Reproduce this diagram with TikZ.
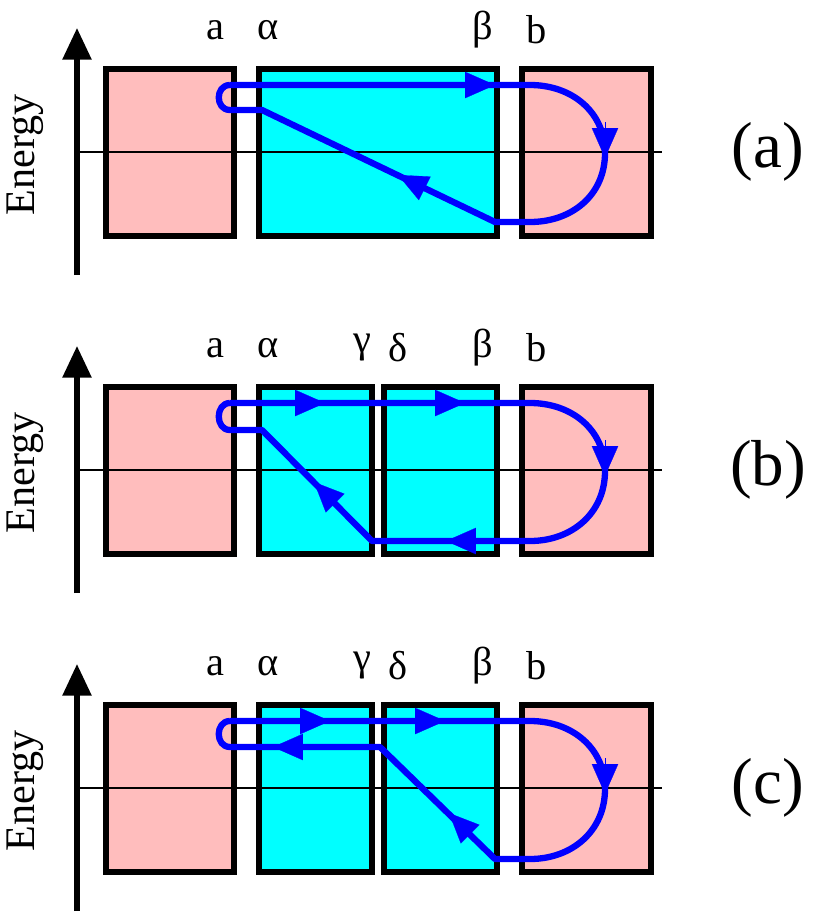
\documentclass[tikz,border=0pt]{standalone}
\usepackage{fontspec}
\setmainfont{Liberation Serif}
\usetikzlibrary{arrows.meta}
\definecolor{cy}{RGB}{0,255,255}
\definecolor{pk}{RGB}{255,189,189}
\begin{document}
\begin{tikzpicture}[x=0.02cm,y=-0.02cm,
  pinkbox/.style={fill=pk,draw=black,line width=3pt},
  cyanbox/.style={fill=cy,draw=black,line width=3pt},
  path/.style={draw=blue,line width=3.6pt,line join=round},
  arr/.style={draw=blue,line width=0.1pt,-{Triangle[length=17pt,width=15pt]},fill=blue},
  lbl/.style={font=\fontsize{23}{25}\selectfont,anchor=center},
  elbl/.style={font=\fontsize{24}{26}\selectfont,anchor=center,rotate=90},
  plbl/.style={font=\fontsize{37}{40}\selectfont,anchor=center},
  axis/.style={line width=3pt,-{Triangle[length=18pt,width=16pt]}}]
\useasboundingbox (0,0) rectangle (830,923);
% ---------------- (a)
\begin{scope}
\draw[pinkbox] (106,69) rectangle (234,236);
\draw[cyanbox] (259,69) rectangle (497,236);
\draw[pinkbox] (522,69) rectangle (651,236);
\draw[line width=1.1pt] (80,152) -- (662,152);
\coordinate (ab) at (77,275); \coordinate (at) at (77,28);
\draw[axis] (ab) -- (at);
\node[elbl] (ea) at (25,155) {Energy};
\node[lbl] (la) at (215,30) {a};
\node[lbl] (lal) at (268,30) {α};
\node[lbl] (lbe) at (483,30) {β};
\node[lbl] (lb) at (537,30) {b};
\node[plbl] (pa) at (768,152) {(a)};
\draw[path] (230,85) -- (530,85) .. controls (572,85) and (605,112) .. (605,153) .. controls (605,195) and (572,222) .. (530,222) -- (495,222) -- (262,110) -- (230,110) .. controls (215,110) and (215,85) .. (230,85);
\draw[arr] (465,85) -- (495,85);
\draw[arr] (605,122) -- (605,158);
\draw[arr] (428,190) -- (398,175);
\end{scope}
% ---------------- (b)
\begin{scope}[yshift=-318*0.02cm]
\draw[pinkbox] (106,69) rectangle (234,236);
\draw[cyanbox] (259,69) rectangle (372,236);
\draw[cyanbox] (384,69) rectangle (497,236);
\draw[pinkbox] (522,69) rectangle (651,236);
\draw[line width=1.1pt] (80,152) -- (662,152);
\draw[axis] (77,275) -- (77,28);
\node[elbl] (eb) at (25,155) {Energy};
\node[lbl] (lb1) at (215,30) {a};
\node[lbl] (lb2) at (268,30) {α};
\node[lbl] (lb3) at (362,30) {γ};
\node[lbl] (lb4) at (398,30) {δ};
\node[lbl] (lb5) at (483,30) {β};
\node[lbl] (lb6) at (537,30) {b};
\node[plbl] (pb) at (768,152) {(b)};
\draw[path] (230,85) -- (530,85) .. controls (572,85) and (605,112) .. (605,153) .. controls (605,195) and (572,223) .. (530,223) -- (372,223) -- (262,112) -- (230,112) .. controls (215,112) and (215,85) .. (230,85);
\draw[arr] (295,85) -- (325,85);
\draw[arr] (435,85) -- (465,85);
\draw[arr] (605,122) -- (605,158);
\draw[arr] (478,223) -- (446,223);
\draw[arr] (337,187) -- (314,164);
\end{scope}
% ---------------- (c)
\begin{scope}[yshift=-636*0.02cm]
\draw[pinkbox] (106,69) rectangle (234,236);
\draw[cyanbox] (259,69) rectangle (372,236);
\draw[cyanbox] (384,69) rectangle (497,236);
\draw[pinkbox] (522,69) rectangle (651,236);
\draw[line width=1.1pt] (80,152) -- (662,152);
\draw[axis] (77,275) -- (77,28);
\node[elbl] (ec) at (25,155) {Energy};
\node[lbl] (lc1) at (215,30) {a};
\node[lbl] (lc2) at (268,30) {α};
\node[lbl] (lc3) at (362,30) {γ};
\node[lbl] (lc4) at (398,30) {δ};
\node[lbl] (lc5) at (483,30) {β};
\node[lbl] (lc6) at (537,30) {b};
\node[plbl] (pc) at (768,152) {(c)};
\draw[path] (230,85) -- (530,85) .. controls (572,85) and (605,112) .. (605,153) .. controls (605,195) and (572,223) .. (530,223) -- (495,223) -- (380,111) -- (230,111) .. controls (215,111) and (215,85) .. (230,85);
\draw[arr] (300,85) -- (330,85);
\draw[arr] (415,85) -- (445,85);
\draw[arr] (303,111) -- (273,111);
\draw[arr] (605,122) -- (605,158);
\draw[arr] (472,200) -- (449,177);
\end{scope}
\end{tikzpicture}
\end{document}
